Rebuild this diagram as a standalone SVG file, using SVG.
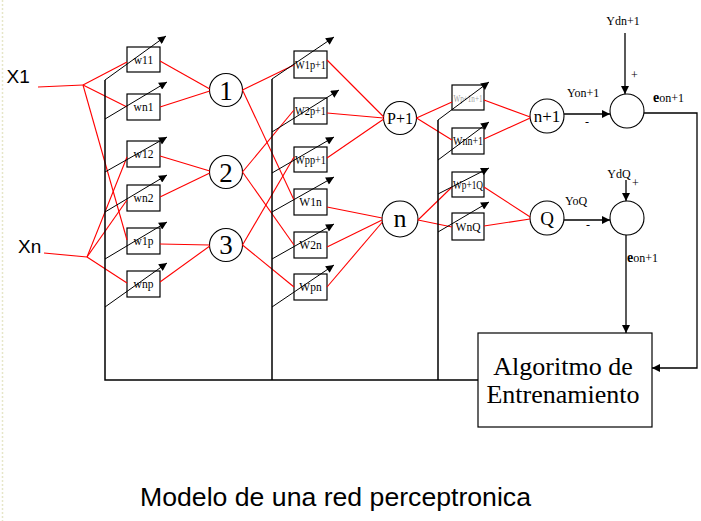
<svg xmlns="http://www.w3.org/2000/svg" width="701" height="521" viewBox="0 0 701 521">
<defs>
<marker id="ah" viewBox="0 0 10 10" refX="10" refY="5" markerWidth="9" markerHeight="8" markerUnits="userSpaceOnUse" orient="auto"><path d="M0,0L10,5L0,10z" fill="#000"/></marker>
</defs>
<style>
.r{stroke:#f00;stroke-width:1.1;fill:none}
.k{stroke:#000;stroke-width:1.5;fill:none}
.d{stroke:#000;stroke-width:1;fill:none;marker-end:url(#ah)}
.a{stroke:#000;stroke-width:1.3;fill:none;marker-end:url(#ah)}
.box{fill:#fff;stroke:#000;stroke-width:1.2}
.c{fill:#fff;stroke:#000;stroke-width:1.1}
.bt{font-family:"Liberation Serif",serif;font-size:11.5px;text-anchor:middle;fill:#000}
.ct{font-family:"Liberation Serif",serif;text-anchor:middle;fill:#000}
.lt{font-family:"Liberation Serif",serif;font-size:12px;fill:#000}
.st{font-family:"Liberation Sans",sans-serif;fill:#000}
</style>
<rect width="701" height="521" fill="#fff"/>
<line x1="2.5" y1="0" x2="2.5" y2="521" stroke="#e6e6c8" stroke-width="1.5" stroke-dasharray="2,2"/>

<!-- left weights -->
<g id="w11"><rect class="box" x="127" y="47" width="33" height="25"/><text class="bt" x="143.5" y="63.5">w11</text></g>
<g id="wn1"><rect class="box" x="127" y="94" width="33" height="26"/><text class="bt" x="143.5" y="111">wn1</text></g>
<g id="w12"><rect class="box" x="127" y="141" width="33" height="26"/><text class="bt" x="143.5" y="158">w12</text></g>
<g id="wn2"><rect class="box" x="127" y="185" width="33" height="26"/><text class="bt" x="143.5" y="202">wn2</text></g>
<g id="w1p"><rect class="box" x="127" y="228" width="33" height="26"/><text class="bt" x="143.5" y="245">w1p</text></g>
<g id="wnp"><rect class="box" x="127" y="271" width="33" height="26"/><text class="bt" x="143.5" y="288">wnp</text></g>

<!-- middle weights -->
<g id="W1p1"><rect class="box" x="294" y="51" width="33" height="27"/><text class="bt" x="310.5" y="68.5" textLength="31" lengthAdjust="spacingAndGlyphs">W1p+1</text></g>
<g id="W2p1"><rect class="box" x="294" y="98" width="33" height="26"/><text class="bt" x="310.5" y="115" textLength="31" lengthAdjust="spacingAndGlyphs">W2p+1</text></g>
<g id="Wpp1"><rect class="box" x="294" y="147" width="33" height="25"/><text class="bt" x="310.5" y="163.5" textLength="31" lengthAdjust="spacingAndGlyphs">Wpp+1</text></g>
<g id="W1n"><rect class="box" x="294" y="189" width="33" height="26"/><text class="bt" x="310.5" y="206">W1n</text></g>
<g id="W2n"><rect class="box" x="294" y="232" width="33" height="26"/><text class="bt" x="310.5" y="249">W2n</text></g>
<g id="Wpn"><rect class="box" x="294" y="274" width="33" height="26"/><text class="bt" x="310.5" y="291">Wpn</text></g>

<!-- right weights -->
<g id="Wp1n1"><rect class="box" x="452" y="85" width="32" height="25"/><text class="bt" x="468" y="101.5" style="fill:#a0a0a0;font-size:10px" textLength="29" lengthAdjust="spacingAndGlyphs">Wp+1n+1</text></g>
<g id="Wnn1"><rect class="box" x="452" y="128" width="32" height="26"/><text class="bt" x="468" y="145" textLength="30" lengthAdjust="spacingAndGlyphs">Wnn+1</text></g>
<g id="Wp1Q"><rect class="box" x="452" y="172" width="32" height="25"/><text class="bt" x="468" y="188.5" textLength="30" lengthAdjust="spacingAndGlyphs">Wp+1Q</text></g>
<g id="WnQ"><rect class="box" x="452" y="213" width="32" height="27"/><text class="bt" x="468" y="230.5">WnQ</text></g>

<!-- neurons -->
<g id="n1"><circle class="c" cx="226" cy="90" r="16.5"/><text class="ct" x="226" y="100" font-size="27">1</text></g>
<g id="n2"><circle class="c" cx="226" cy="172" r="16.5"/><text class="ct" x="226" y="182" font-size="27">2</text></g>
<g id="n3"><circle class="c" cx="226" cy="245" r="16.5"/><text class="ct" x="226" y="254" font-size="27">3</text></g>
<g id="nP1"><circle class="c" cx="400" cy="118" r="16.5"/><text class="ct" x="400" y="123.5" font-size="16">P+1</text></g>
<g id="nn"><circle class="c" cx="400" cy="219" r="18"/><text class="ct" x="400" y="227" font-size="26">n</text></g>
<g id="nn1"><circle class="c" cx="547" cy="116" r="17"/><text class="ct" x="547" y="122" font-size="17">n+1</text></g>
<g id="nQ"><circle class="c" cx="547" cy="218" r="17"/><text class="ct" x="547" y="225" font-size="19">Q</text></g>

<!-- comparators -->
<g id="sum1"><circle class="c" cx="627" cy="111" r="17"/></g>
<g id="sum2"><circle class="c" cx="627" cy="218" r="17"/></g>

<!-- training algorithm -->
<g id="algoritmo"><rect class="box" x="478" y="333" width="174" height="94"/>
<text class="ct" x="563" y="375" font-size="26">Algoritmo de</text>
<text class="ct" x="563" y="403" font-size="26">Entrenamiento</text></g>

<g id="connectors">
<!-- inputs -->
<polyline class="r" points="38,87 83,85"/>
<polyline class="r" points="44,253 87,257"/>
<line class="r" x1="83" y1="85" x2="127" y2="62"/>
<line class="r" x1="83" y1="85" x2="127" y2="107"/>
<line class="r" x1="83" y1="85" x2="127" y2="240"/>
<line class="r" x1="87" y1="257" x2="127" y2="157"/>
<line class="r" x1="87" y1="257" x2="127" y2="200"/>
<line class="r" x1="87" y1="257" x2="127" y2="283"/>
<!-- left boxes to hidden neurons -->
<line class="r" x1="160" y1="61" x2="209.8" y2="89"/>
<line class="r" x1="160" y1="107" x2="209.8" y2="91"/>
<line class="r" x1="160" y1="156" x2="209.8" y2="171"/>
<line class="r" x1="160" y1="197" x2="209.8" y2="173"/>
<line class="r" x1="160" y1="244" x2="209.5" y2="245"/>
<line class="r" x1="160" y1="282" x2="209.8" y2="246"/>
<!-- hidden to middle boxes -->
<line class="r" x1="242.5" y1="90" x2="294" y2="65"/>
<line class="r" x1="242.5" y1="90" x2="294" y2="200"/>
<line class="r" x1="242.5" y1="172" x2="294" y2="110"/>
<line class="r" x1="242.5" y1="172" x2="294" y2="245"/>
<line class="r" x1="242.5" y1="245" x2="294" y2="157"/>
<line class="r" x1="242.5" y1="245" x2="294" y2="287"/>
<!-- middle boxes to second layer -->
<line class="r" x1="327" y1="60" x2="383.8" y2="117"/>
<line class="r" x1="327" y1="113" x2="383.5" y2="118"/>
<line class="r" x1="327" y1="158" x2="383.8" y2="119"/>
<line class="r" x1="327" y1="207" x2="382.2" y2="218"/>
<line class="r" x1="327" y1="247" x2="382.1" y2="220"/>
<line class="r" x1="327" y1="287" x2="382.4" y2="222"/>
<!-- second layer to right boxes -->
<line class="r" x1="416.5" y1="118" x2="452" y2="102"/>
<line class="r" x1="416.5" y1="118" x2="452" y2="140"/>
<line class="r" x1="418" y1="220" x2="452" y2="187"/>
<line class="r" x1="418" y1="220" x2="452" y2="227"/>
<!-- right boxes to outputs -->
<line class="r" x1="484" y1="100" x2="530.2" y2="117"/>
<line class="r" x1="484" y1="139" x2="530.2" y2="118"/>
<line class="r" x1="484" y1="187" x2="530.2" y2="217"/>
<line class="r" x1="484" y1="226" x2="530.1" y2="219"/>

<!-- feedback bus -->
<polyline class="k" points="105,80 105,380 478,380"/>
<line class="k" x1="272" y1="79" x2="272" y2="380"/>
<line class="k" x1="438" y1="120" x2="438" y2="380"/>

<!-- weight adjust diagonals -->
<line class="d" x1="105" y1="80" x2="166" y2="36"/>
<line class="d" x1="105" y1="119" x2="167" y2="82"/>
<line class="d" x1="105" y1="172" x2="167" y2="137"/>
<line class="d" x1="105" y1="212" x2="167" y2="175"/>
<line class="d" x1="105" y1="259" x2="167" y2="222"/>
<line class="d" x1="105" y1="307" x2="167" y2="263"/>
<line class="d" x1="272" y1="79" x2="334" y2="37"/>
<line class="d" x1="272" y1="132" x2="339" y2="90"/>
<line class="d" x1="272" y1="173" x2="334" y2="137"/>
<line class="d" x1="272" y1="212" x2="334" y2="177"/>
<line class="d" x1="272" y1="259" x2="334" y2="224"/>
<line class="d" x1="272" y1="307" x2="334" y2="265"/>
<line class="d" x1="438" y1="120" x2="489" y2="82"/>
<line class="d" x1="438" y1="160" x2="489" y2="122"/>
<line class="d" x1="438" y1="194" x2="489" y2="168"/>
<line class="d" x1="438" y1="232" x2="489" y2="202"/>

<!-- error section -->
<line class="a" x1="564" y1="114" x2="610" y2="114"/>
<line class="a" x1="625" y1="33" x2="625" y2="94"/>
<polyline class="a" points="644,113 697,113 697,368 652,368"/>
<line class="a" x1="564" y1="220" x2="610" y2="220"/>
<line class="a" x1="626" y1="180" x2="626" y2="201"/>
<line class="a" x1="626" y1="235" x2="626" y2="333"/>
</g>

<!-- labels -->
<g id="labels">
<text class="st" x="6.5" y="83" font-size="19">X1</text>
<text class="st" x="18" y="253" font-size="19">Xn</text>
<text class="lt" x="623" y="25" text-anchor="middle">Ydn+1</text>
<text class="lt" x="631" y="79" font-size="10">+</text>
<text class="lt" x="567" y="97">Yon+1</text>
<text class="lt" x="585" y="126">-</text>
<text class="lt" x="653" y="102"><tspan font-weight="bold" font-size="14">e</tspan><tspan>on+1</tspan></text>
<text class="lt" x="619" y="178" text-anchor="middle" font-size="13">YdQ</text>
<text class="lt" x="632" y="187" font-size="10">+</text>
<text class="lt" x="565" y="205" font-size="13">YoQ</text>
<text class="lt" x="586" y="229">-</text>
<text class="lt" x="627" y="262"><tspan font-weight="bold" font-size="14">e</tspan><tspan>on+1</tspan></text>
<text class="st" x="140" y="506" font-size="25" textLength="391" lengthAdjust="spacingAndGlyphs">Modelo de una red perceptronica</text>
</g>
</svg>
